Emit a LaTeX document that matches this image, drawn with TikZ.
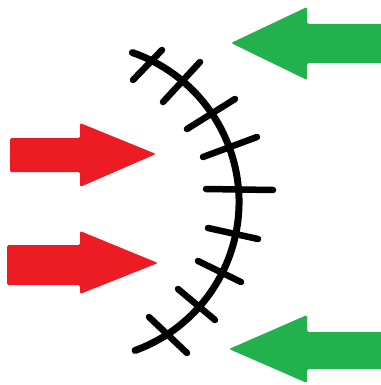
\documentclass[tikz,border=0pt]{standalone}
\usepackage{tikz}
\usepackage{xcolor}
\definecolor{pushR}{RGB}{237,28,36}
\definecolor{pushG}{RGB}{34,177,76}
\tikzset{
  redarr/.style={fill=pushR,rounded corners=1.5pt},
  greenarr/.style={fill=pushG,rounded corners=1.5pt},
  seam/.style={draw=black,line width=7pt},
  stitch/.style={draw=black,line width=6.5pt,line cap=round},
}

\begin{document}
\begin{tikzpicture}[x=1pt,y=-1pt]
  \useasboundingbox (0,0) rectangle (380,385);
  % incoming red arrows
  \fill[redarr] (10,138) -- (80,138) -- (80,123) -- (156,154) -- (80,187) -- (80,172) -- (10,172) -- cycle;
  \fill[redarr] (7,245) -- (80,245) -- (80,231) -- (158,263) -- (80,294) -- (80,285) -- (7,285) -- cycle;
  % incoming green arrows
  \fill[greenarr] (385,24) -- (307,24) -- (307,7) -- (231,43) -- (307,80) -- (307,63) -- (385,63) -- cycle;
  \fill[greenarr] (385,332) -- (307,332) -- (307,315) -- (229,349) -- (307,383) -- (307,369) -- (385,369) -- cycle;
  % the stitched arc
  \draw[seam,line cap=round] (81,202) ++(70:158) arc[start angle=70,end angle=-71,radius=158];
  \foreach \xa/\ya/\xb/\yb in {133/80/162/50, 163/102/200/62, 187/129/235/99,
      203/157/257/137, 206/189/273/190, 208/228/258/239,
      198/261/241/282, 178/289/215/320, 149/317/187/353}
    \draw[stitch] (\xa,\ya) -- (\xb,\yb);
\end{tikzpicture}
\end{document}
